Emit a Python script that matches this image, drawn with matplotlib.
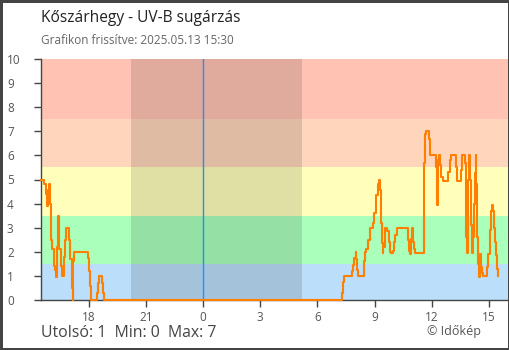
import pandas as pd
import matplotlib
matplotlib.use("Agg")
import matplotlib.pyplot as plt
import matplotlib.dates as mdates
from matplotlib.ticker import FuncFormatter

plt.rcParams['font.family'] = ['Open Sans', 'DejaVu Sans']

station = "Kőszárhegy"
updated = "2025.05.13 15:30"

# UV-B index readings; each value holds until the next timestamp
day1 = "2025-05-12"
day1_times = ["15:30", "15:40", "15:45", "15:49", "15:52", "15:54", "15:57", "15:59",
              "16:03", "16:05", "16:11", "16:14", "16:16", "16:20", "16:23", "16:25",
              "16:27", "16:28", "16:32", "16:35", "16:42", "16:47", "16:49", "16:59",
              "17:02", "17:07", "17:10", "17:12", "17:14", "17:58", "18:01", "18:04",
              "18:08", "18:27", "18:29", "18:31", "18:41", "18:44", "18:47"]
day1_uv = [5.0, 4.8, 4.4, 3.9, 4.55, 4.8, 4.3, 4.0,
           2.5, 2.1, 1.4, 1.25, 0.95, 2.2, 3.0, 3.5,
           3.2, 2.1, 1.4, 1.0, 1.8, 2.5, 3.0, 2.5,
           1.7, 0.5, 0.0, 1.6, 2.0, 1.75, 1.2, 0.6,
           0.0, 0.3, 0.7, 1.0, 0.7, 0.3, 0.0]

day2 = "2025-05-13"
day2_times = ["07:17", "07:20", "07:24", "07:48", "07:51", "07:55", "08:00", "08:03",
              "08:05", "08:08", "08:26", "08:30", "08:33", "08:38", "08:47", "08:56",
              "08:59", "09:03", "09:06", "09:10", "09:13", "09:16", "09:19", "09:21",
              "09:24", "09:25", "09:28", "09:32", "09:40", "09:44", "09:50", "09:53",
              "09:57", "10:01", "10:05", "10:11", "10:44", "10:48", "10:51", "10:55",
              "10:59", "11:02", "11:05", "11:08", "11:35", "11:37", "11:39", "11:42",
              "11:51", "11:54", "11:56", "12:13", "12:15", "12:17", "12:19", "12:21",
              "12:24", "12:26", "12:30", "12:34", "12:52", "12:57", "13:01", "13:16",
              "13:19", "13:31", "13:34", "13:45", "13:47", "13:49", "13:51", "13:53",
              "13:55", "13:57", "14:00", "14:03", "14:05", "14:06", "14:08", "14:10",
              "14:14", "14:16", "14:18", "14:20", "14:22", "14:23", "14:25", "14:26",
              "14:29", "14:31", "14:33", "14:35", "14:39", "14:41", "14:54", "14:56",
              "14:58", "15:02", "15:04", "15:06", "15:08", "15:10", "15:13", "15:15",
              "15:19", "15:21", "15:24", "15:27", "15:29"]
day2_uv = [0.3, 0.75, 1.0, 1.2, 1.45, 1.75, 2.0, 1.7,
           1.25, 1.0, 1.6, 2.0, 2.1, 2.5, 3.0, 3.2,
           3.6, 3.95, 4.35, 4.8, 5.0, 4.55, 3.85, 3.2,
           2.35, 1.95, 2.2, 3.0, 2.85, 2.4, 2.0, 1.95,
           2.05, 2.4, 2.7, 3.0, 2.5, 2.05, 1.9, 2.55,
           3.0, 2.4, 2.1, 1.95, 3.2, 5.7, 6.9, 7.0,
           6.7, 6.3, 6.0, 5.5, 4.5, 3.95, 5.4, 5.8,
           6.0, 5.6, 5.1, 4.95, 5.3, 5.8, 6.0, 5.5,
           4.95, 5.4, 6.0, 5.7, 4.15, 2.6, 1.95, 3.6,
           5.0, 6.0, 5.0, 4.6, 3.1, 2.3, 1.95, 2.6,
           4.0, 5.25, 6.0, 4.8, 3.6, 2.6, 1.9, 1.5,
           0.97, 1.5, 1.9, 1.35, 1.1, 1.0, 1.35, 1.65,
           1.9, 2.3, 2.9, 3.45, 3.7, 3.95, 3.7, 3.0,
           2.4, 1.85, 1.3, 1.0, 1.0]

# window shown, dark period and midnight marker
window = ("2025-05-12 15:30", "2025-05-13 16:00")
night = ("2025-05-12 20:13", "2025-05-13 05:13")
midnight = "2025-05-13 00:00"

# UV index risk bands
band_edges = [0, 1.5, 3.5, 5.5, 7.5, 10]
band_colors = ["#bbdefa", "#aaffbb", "#ffffbb", "#ffd5bb", "#ffc2b3"]

times = pd.to_datetime([f"{day1} {t}" for t in day1_times] +
                       [f"{day2} {t}" for t in day2_times])
uv = pd.Series(day1_uv + day2_uv, index=times)

fig = plt.figure(figsize=(5.1, 3.5), dpi=100)
fig.patch.set_edgecolor("#444444")
fig.patch.set_linewidth(2.5)
ax = fig.add_axes([41 / 510, 50 / 350, 467 / 510, 241 / 350])

x0, x1 = pd.to_datetime(window[0]), pd.to_datetime(window[1])
for lo, hi, col in zip(band_edges[:-1], band_edges[1:], band_colors):
    ax.axhspan(lo, hi, color=col, lw=0, zorder=0)
ax.axvspan(pd.to_datetime(night[0]), pd.to_datetime(night[1]),
           color="black", alpha=0.12, lw=0, zorder=1)
ax.axvline(pd.to_datetime(midnight), color="#1e8fff", lw=1, zorder=2)

ax.step(uv.index, uv.values, where="post", color="#ff8000", lw=1.5,
        zorder=4, clip_on=False)

ax.set_xlim(x0, x1)
ax.set_ylim(band_edges[0], band_edges[-1])
ax.set_yticks(range(0, 11))

ax.xaxis.set_major_locator(mdates.HourLocator(byhour=range(0, 24, 3)))
ax.xaxis.set_major_formatter(FuncFormatter(lambda v, p: str(mdates.num2date(v).hour)))

for side in ("top", "right"):
    ax.spines[side].set_visible(False)
for side in ("left", "bottom"):
    ax.spines[side].set_color("#444444")
    ax.spines[side].set_linewidth(1)
    ax.spines[side].set_zorder(3)

ax.tick_params(axis="both", colors="#444444", labelcolor="#555555",
               labelsize=8.5, length=5, width=1)
ax.tick_params(axis="y", pad=19.5)
ax.tick_params(axis="x", pad=3)
for lab in ax.get_yticklabels():
    lab.set_horizontalalignment("left")

fig.text(41 / 510, 1 - 18 / 350, f"{station} - UV-B sugárzás", fontsize=11.2,
         color="#222222", va="center", ha="left")
fig.text(41 / 510, 1 - 41 / 350, f"Grafikon frissítve: {updated}", fontsize=8.5,
         color="#666666", va="center", ha="left")

fmt = lambda v: f"{round(v):g}"
stats = f"Utolsó: {fmt(uv.iloc[-1])}  Min: {fmt(uv.min())}  Max: {fmt(uv.max())}"
fig.text(41 / 510, 1 - 333 / 350, stats, fontsize=11.4, color="#444444",
         va="center", ha="left")
fig.text(481 / 510, 1 - 331 / 350, "© Időkép", fontsize=9, color="#555555",
         va="center", ha="right")

fig.savefig("out.png", dpi=100, edgecolor=fig.get_edgecolor())
